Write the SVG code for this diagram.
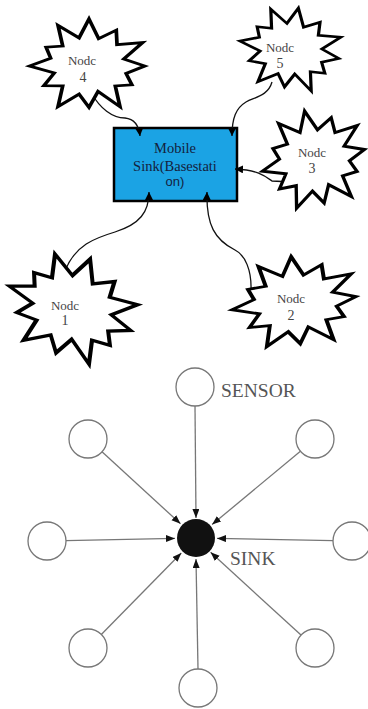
<svg xmlns="http://www.w3.org/2000/svg" width="368" height="709" viewBox="0 0 368 709">
<style>
.star{fill:#fff;stroke:#000;stroke-width:3;stroke-linejoin:miter;stroke-miterlimit:10}
.nt{font-family:"Liberation Serif",serif;fill:#444;text-anchor:middle}
.bt{font-family:"Liberation Serif",serif;fill:#14213d;font-size:14.5px;text-anchor:middle}
.curve{fill:none;stroke:#111;stroke-width:1.3}
.sl{fill:none;stroke:#777;stroke-width:1.3}
.sc{fill:#fff;stroke:#777;stroke-width:1.3}
.lab{font-family:"Liberation Serif",serif;fill:#555;font-size:19.5px}
</style>
<defs>
<path id="starp" d="M0,-50 L7.8,-29 L22,-38.1 L22.6,-22.6 L43.3,-25 L28,-7.5 L45,0 L29.9,8 L34.6,20 L21.2,21.2 L25,43.3 L7.3,27 L0,44 L-8,29.9 L-25,43.3 L-21.2,21.2 L-36.4,21 L-28,7.5 L-48,0 L-30.9,-8.3 L-34.6,-20 L-21.2,-21.2 L-25,-43.3 L-8,-29.9 Z"/>
<marker id="ah" markerUnits="userSpaceOnUse" markerWidth="10" markerHeight="10" refX="8" refY="4" orient="auto"><path d="M0,0 L8,4 L0,8 Z" fill="#000"/></marker>
<marker id="ah2" markerUnits="userSpaceOnUse" markerWidth="10" markerHeight="10" refX="9" refY="3.5" orient="auto"><path d="M0,0 L9,3.5 L0,7 Z" fill="#111"/></marker>
</defs>

<g id="mobile-sink">
<rect x="114" y="128" width="123" height="73" fill="#1ba3e4" stroke="#000" stroke-width="2.5"/>
<text class="bt" x="175" y="153">Mobile</text>
<text class="bt" x="175" y="171">Sink(Basestati</text>
<text class="bt" x="175" y="186" style="font-family:'Liberation Sans',sans-serif;font-size:13px">on)</text>
</g>

<g id="connectors">
<path class="curve" d="M92,94 C100,108 112,118 125,118 C134,119 139,126 140,136" marker-end="url(#ah)"/>
<path class="curve" d="M272,82 C268,96 255,97 246,102 C236,108 232,118 232,136" marker-end="url(#ah)"/>
<path class="curve" d="M292,182 L272,181 C265,176 258,170 235,169" marker-end="url(#ah)"/>
<path class="curve" d="M65,271 C75,245 95,238 115,232 C140,224 149,212 149,192" marker-end="url(#ah)"/>
<path class="curve" d="M251,292 C252,270 245,255 235,250 C215,240 206,225 207,192" marker-end="url(#ah)"/>

<line class="sl" x1="195" y1="406" x2="196" y2="518" marker-end="url(#ah2)"/>
<line class="sl" x1="102" y1="451.8" x2="180.5" y2="523.8" marker-end="url(#ah2)"/>
<line class="sl" x1="300.4" y1="451.2" x2="212.1" y2="524.6" marker-end="url(#ah2)"/>
<line class="sl" x1="66" y1="540.6" x2="175" y2="538.4" marker-end="url(#ah2)"/>
<line class="sl" x1="333" y1="540.6" x2="217" y2="538.4" marker-end="url(#ah2)"/>
<line class="sl" x1="101.3" y1="634.5" x2="181.3" y2="553" marker-end="url(#ah2)"/>
<line class="sl" x1="301" y1="635.1" x2="210.6" y2="552.3" marker-end="url(#ah2)"/>
<line class="sl" x1="198" y1="669" x2="196" y2="559" marker-end="url(#ah2)"/>
</g>

<g id="node4">
<use href="#starp" class="star" transform="translate(89,66) scale(1.24,0.94)"/>
<text class="nt" x="82" y="65" font-size="13">Nodc</text>
<text class="nt" x="83" y="82" font-size="14">4</text>
</g>
<g id="node5">
<use href="#starp" class="star" transform="translate(291,50) rotate(10) scale(1.08,0.85)"/>
<text class="nt" x="280" y="52" font-size="13">Nodc</text>
<text class="nt" x="280" y="68" font-size="14">5</text>
</g>
<g id="node3">
<use href="#starp" class="star" transform="translate(315,160) rotate(-12) scale(1.12,1.0)"/>
<text class="nt" x="312" y="157" font-size="13">Nodc</text>
<text class="nt" x="312" y="173" font-size="14">3</text>
</g>
<g id="node1">
<use href="#starp" class="star" transform="translate(72,309) rotate(20) scale(1.39,1.06)"/>
<text class="nt" x="65" y="310" font-size="13">Nodc</text>
<text class="nt" x="65" y="325" font-size="14">1</text>
</g>
<g id="node2">
<use href="#starp" class="star" transform="translate(296,303) rotate(-6) scale(1.34,0.93)"/>
<text class="nt" x="291" y="303" font-size="13">Nodc</text>
<text class="nt" x="291" y="320" font-size="14">2</text>
</g>

<g id="sensor-top"><circle class="sc" cx="195" cy="387" r="19"/></g>
<text class="lab" x="221" y="397">SENSOR</text>
<g id="sensor-ul"><circle class="sc" cx="88" cy="439" r="19"/></g>
<g id="sensor-ur"><circle class="sc" cx="315" cy="439" r="19"/></g>
<g id="sensor-l"><circle class="sc" cx="47" cy="541" r="19"/></g>
<g id="sensor-r"><circle class="sc" cx="352" cy="541" r="19"/></g>
<g id="sensor-ll"><circle class="sc" cx="88" cy="648" r="19"/></g>
<g id="sensor-lr"><circle class="sc" cx="315" cy="648" r="19"/></g>
<g id="sensor-b"><circle class="sc" cx="198" cy="688" r="19"/></g>
<g id="sink"><circle cx="196" cy="538" r="19" fill="#111"/>
<text class="lab" x="230" y="565">SINK</text></g>
</svg>
